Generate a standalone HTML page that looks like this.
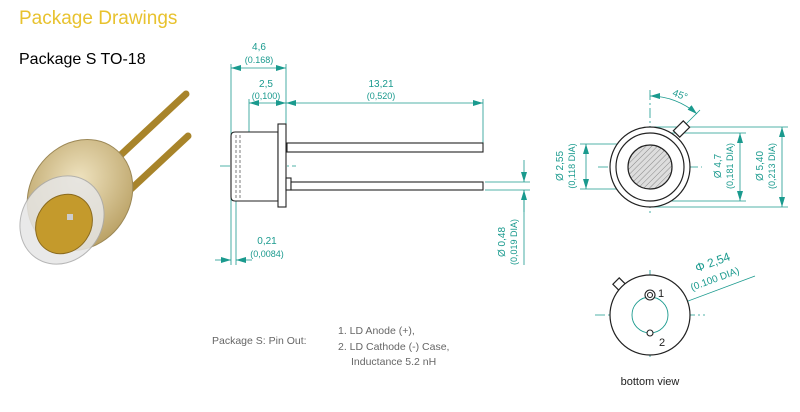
<!DOCTYPE html>
<html><head><meta charset="utf-8"><style>
body{margin:0;background:#fff}
svg{display:block}
.t{font-family:"Liberation Sans",sans-serif}
</style></head><body>
<svg width="800" height="412" viewBox="0 0 800 412" xmlns="http://www.w3.org/2000/svg">
<defs>
<marker id="a" viewBox="0 0 10 6" refX="10" refY="3" markerWidth="10" markerHeight="6" orient="auto-start-reverse" markerUnits="userSpaceOnUse"><path d="M0,0L10,3L0,6z" fill="#1a9a8e"/></marker>
<pattern id="h" width="4" height="4" patternUnits="userSpaceOnUse" patternTransform="rotate(45)"><rect width="4" height="4" fill="#ddd"/><line x1="0" y1="0" x2="0" y2="4" stroke="#888" stroke-width="1"/></pattern>
<radialGradient id="g1" cx="0.4" cy="0.4" r="0.7"><stop offset="0" stop-color="#efe3c0"/><stop offset="1" stop-color="#b59b5c"/></radialGradient>
</defs>
<text class="t" x="19" y="24" font-size="19" fill="#e8c22e">Package Drawings</text>
<text class="t" x="19" y="64" font-size="16" fill="#000">Package S  TO-18</text>

<g>
<line x1="110" y1="165" x2="186" y2="94" stroke="#a8842a" stroke-width="7" stroke-linecap="round"/>
<line x1="130" y1="190" x2="188" y2="136" stroke="#a8842a" stroke-width="7" stroke-linecap="round"/>
<ellipse cx="80" cy="195" rx="50" ry="58" transform="rotate(35 80 195)" fill="url(#g1)" stroke="#9c8856"/>
<ellipse cx="62" cy="220" rx="40" ry="46" transform="rotate(35 62 220)" fill="#e6e6e6" stroke="#aaa" opacity="0.85"/>
<ellipse cx="64" cy="224" rx="27" ry="31" transform="rotate(35 64 224)" fill="#c49a2c" stroke="#8a6a1e"/>
<rect x="67" y="214" width="6" height="6" fill="#ccc"/>
</g>

<g stroke="#1a9a8e" stroke-width="0.8" fill="none">
<line x1="231" y1="68" x2="286" y2="68" marker-start="url(#a)" marker-end="url(#a)"/>
<line x1="249" y1="103" x2="286" y2="103" marker-start="url(#a)" marker-end="url(#a)"/>
<line x1="286" y1="103" x2="483" y2="103" marker-start="url(#a)" marker-end="url(#a)"/>
<line x1="231" y1="64" x2="231" y2="265"/>
<line x1="236" y1="200" x2="236" y2="265"/>
<line x1="249" y1="99" x2="249" y2="166"/>
<line x1="286" y1="64" x2="286" y2="124"/>
<line x1="483" y1="99" x2="483" y2="143"/>
<line x1="215" y1="260" x2="231" y2="260" marker-end="url(#a)"/>
<line x1="252" y1="260" x2="236" y2="260" marker-end="url(#a)"/>
<line x1="485" y1="182" x2="530" y2="182"/>
<line x1="485" y1="190" x2="530" y2="190"/>
<line x1="524" y1="160" x2="524" y2="182" marker-end="url(#a)"/>
<line x1="524" y1="212" x2="524" y2="190" marker-end="url(#a)"/>
<line x1="524" y1="190" x2="524" y2="265"/>
<line x1="580" y1="144" x2="650" y2="144"/>
<line x1="580" y1="189" x2="650" y2="189"/>
<line x1="586" y1="144" x2="586" y2="189" marker-start="url(#a)" marker-end="url(#a)"/>
<line x1="650" y1="133" x2="746" y2="133"/>
<line x1="650" y1="201" x2="746" y2="201"/>
<line x1="740" y1="133" x2="740" y2="201" marker-start="url(#a)" marker-end="url(#a)"/>
<line x1="650" y1="127" x2="788" y2="127"/>
<line x1="650" y1="207" x2="788" y2="207"/>
<line x1="782" y1="127" x2="782" y2="207" marker-start="url(#a)" marker-end="url(#a)"/>
<path d="M650,96 A71,71 0 0 1 697,114" marker-start="url(#a)" marker-end="url(#a)"/>
<line x1="684" y1="126" x2="700" y2="110"/>
<line x1="632" y1="322" x2="755" y2="276" marker-start="url(#a)"/>
<line x1="668" y1="308" x2="662" y2="310" marker-end="url(#a)"/>
</g>
<g stroke="#1a9a8e" stroke-width="0.8" stroke-dasharray="10,3,2,3">
<line x1="220" y1="166" x2="296" y2="166"/>
<line x1="650" y1="90" x2="650" y2="216"/>
<line x1="598" y1="167" x2="702" y2="167"/>
<line x1="650" y1="270" x2="650" y2="360"/>
<line x1="595" y1="315" x2="705" y2="315"/>
</g>

<g stroke="#222" stroke-width="1.1" fill="#fff">
<path d="M235,132 H278 V201 H235 Q231,201 231,197 V136 Q231,132 235,132z"/>
<rect x="278" y="124" width="8" height="83"/>
<rect x="287" y="143" width="196" height="9"/>
<rect x="286" y="178" width="5" height="12"/>
<rect x="291" y="182" width="192" height="8"/>
</g>
<g stroke="#444" stroke-width="0.7" stroke-dasharray="3,2">
<line x1="236" y1="135" x2="236" y2="198"/><line x1="240" y1="135" x2="240" y2="198"/>
</g>

<g stroke="#222" stroke-width="1.2" fill="#fff">
<rect x="677" y="122" width="9" height="14" transform="rotate(45 681.5 129)"/>
<circle cx="650" cy="167" r="40"/>
<circle cx="650" cy="167" r="34"/>
<circle cx="650" cy="167" r="22" fill="url(#h)"/>
</g>
<g stroke="#222" stroke-width="1.2" fill="#fff">
<rect x="616.5" y="279" width="9" height="14" transform="rotate(-45 621 286)"/>
<circle cx="650" cy="315" r="40"/>
</g>
<circle cx="650" cy="315" r="18" fill="none" stroke="#1a9a8e" stroke-width="0.9"/>
<g stroke="#222" stroke-width="1.1" fill="#fff">
<circle cx="650" cy="295" r="5"/><circle cx="650" cy="295" r="2.5"/>
<circle cx="650" cy="333" r="3"/>
</g>

<g class="t" fill="#1a9a8e" font-size="10" text-anchor="middle">
<text x="259" y="50">4,6</text><text x="259" y="63" font-size="9">(0.168)</text>
<text x="266" y="87">2,5</text><text x="266" y="99" font-size="9">(0,100)</text>
<text x="381" y="87">13,21</text><text x="381" y="99" font-size="9">(0,520)</text>
<text x="267" y="244">0,21</text><text x="267" y="257" font-size="9">(0,0084)</text>
<text transform="translate(505,242) rotate(-90)">Ø 0,48</text>
<text transform="translate(517,242) rotate(-90)" font-size="9">(0,019 DIA)</text>
<text transform="translate(563,166) rotate(-90)">Ø 2,55</text>
<text transform="translate(575,166) rotate(-90)" font-size="9">(0,118 DIA)</text>
<text transform="translate(721,166) rotate(-90)">Ø 4,7</text>
<text transform="translate(733,166) rotate(-90)" font-size="9">(0,181 DIA)</text>
<text transform="translate(763,166) rotate(-90)">Ø 5,40</text>
<text transform="translate(775,166) rotate(-90)" font-size="9">(0,213 DIA)</text>
<text transform="translate(679,98) rotate(20)" font-size="10">45°</text>
<text transform="translate(714,266) rotate(-20)" font-size="12">Φ 2,54</text>
<text transform="translate(716,282) rotate(-20)" font-size="10">(0.100 DIA)</text>
</g>
<g class="t" fill="#222" font-size="11">
<text x="658" y="297">1</text><text x="659" y="346">2</text>
<text x="650" y="385" text-anchor="middle" font-size="11">bottom view</text>
</g>
<g class="t" fill="#666" font-size="10.5">
<text x="212" y="344">Package S: Pin Out:</text>
<text x="338" y="334">1. LD Anode (+),</text>
<text x="338" y="350">2. LD Cathode (-) Case,</text>
<text x="351" y="365">Inductance 5.2 nH</text>
</g>
</svg>
</body></html>
